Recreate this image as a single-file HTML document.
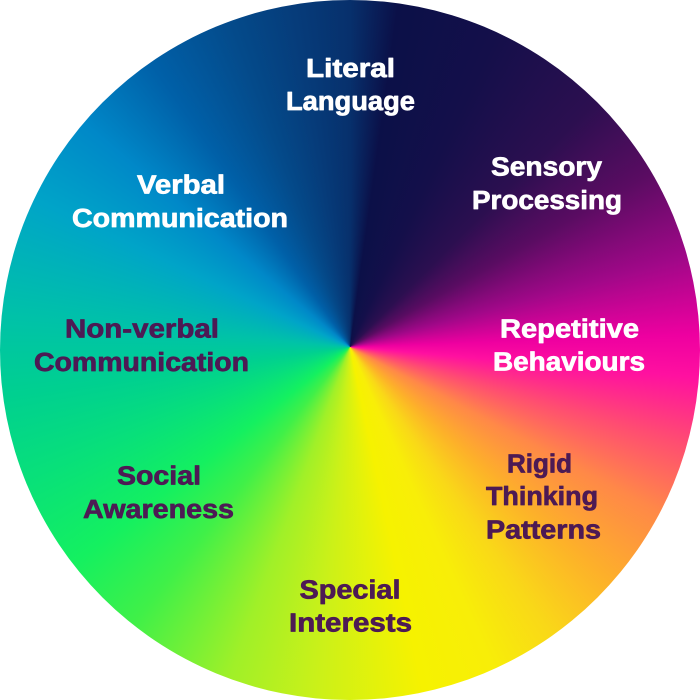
<!DOCTYPE html>
<html>
<head>
<meta charset="utf-8">
<style>
  html, body { margin: 0; padding: 0; background: #ffffff; }
  body { width: 700px; height: 700px; position: relative; overflow: hidden; }
  .wheel {
    position: absolute; left: 0; top: 0; width: 700px; height: 700px;
    border-radius: 50%;
    background: conic-gradient(from 0deg at 350px 347px,
      #07306c 0deg,
      #0b1048 8deg,
      #140f4a 25deg,
      #2c0f50 45deg,
      #5a0c62 60deg,
      #a00888 75deg,
      #ee00a0 88deg,
      #ff10a0 95deg,
      #ff4c72 106deg,
      #ff8848 118deg,
      #fdb02a 132deg,
      #f9d818 145deg,
      #f8ee08 156deg,
      #f6f200 168deg,
      #ccf118 185deg,
      #a0f028 200deg,
      #40f048 218deg,
      #14f060 232deg,
      #08e07a 248deg,
      #00d090 262deg,
      #00c2a8 275deg,
      #00a4c8 295deg,
      #0088c8 310deg,
      #0060a8 325deg,
      #044a8a 340deg,
      #063a78 352deg,
      #07306c 360deg);
  }
  svg { position: absolute; left: 0; top: 0; }
  text {
    font-family: "Liberation Sans", sans-serif;
    font-weight: bold;
    font-size: 25.5px;
    text-anchor: middle;
    stroke-width: 0.7px;
    stroke-linejoin: round;
  }
  .w { fill: #ffffff; stroke: #ffffff; }
  .p { fill: #4d1a54; stroke: #4d1a54; }
</style>
</head>
<body>
<div class="wheel"></div>
<svg width="700" height="700" viewBox="0 0 700 700" xmlns="http://www.w3.org/2000/svg">
  <!-- Literal Language -->
  <text class="w" x="350.5" y="77" textLength="89" lengthAdjust="spacingAndGlyphs">Literal</text>
  <text class="w" x="350.5" y="110" textLength="129" lengthAdjust="spacingAndGlyphs">Language</text>

  <!-- Sensory Processing -->
  <text class="w" x="546.5" y="175.5" textLength="111" lengthAdjust="spacingAndGlyphs">Sensory</text>
  <text class="w" x="547" y="209" textLength="150" lengthAdjust="spacingAndGlyphs">Processing</text>

  <!-- Verbal Communication -->
  <text class="w" x="181" y="193.5" textLength="88" lengthAdjust="spacingAndGlyphs">Verbal</text>
  <text class="w" x="180" y="227" textLength="216" lengthAdjust="spacingAndGlyphs">Communication</text>

  <!-- Non-verbal Communication -->
  <text class="p" x="142" y="337.5" textLength="154" lengthAdjust="spacingAndGlyphs">Non-verbal</text>
  <text class="p" x="141.5" y="371" textLength="215" lengthAdjust="spacingAndGlyphs">Communication</text>

  <!-- Repetitive Behaviours -->
  <text class="w" x="569.5" y="337.5" textLength="139" lengthAdjust="spacingAndGlyphs">Repetitive</text>
  <text class="w" x="569" y="370.5" textLength="152" lengthAdjust="spacingAndGlyphs">Behaviours</text>

  <!-- Social Awareness -->
  <text class="p" x="159" y="484.5" textLength="84" lengthAdjust="spacingAndGlyphs">Social</text>
  <text class="p" x="158.5" y="518" textLength="151" lengthAdjust="spacingAndGlyphs">Awareness</text>

  <!-- Rigid Thinking Patterns -->
  <text class="p" x="539.5" y="472.5" textLength="65" lengthAdjust="spacingAndGlyphs">Rigid</text>
  <text class="p" x="542" y="505" textLength="112" lengthAdjust="spacingAndGlyphs">Thinking</text>
  <text class="p" x="543.5" y="538.3" textLength="115" lengthAdjust="spacingAndGlyphs">Patterns</text>

  <!-- Special Interests -->
  <text class="p" x="350" y="598.3" textLength="101" lengthAdjust="spacingAndGlyphs">Special</text>
  <text class="p" x="350.5" y="631.7" textLength="123" lengthAdjust="spacingAndGlyphs">Interests</text>
</svg>
</body>
</html>
